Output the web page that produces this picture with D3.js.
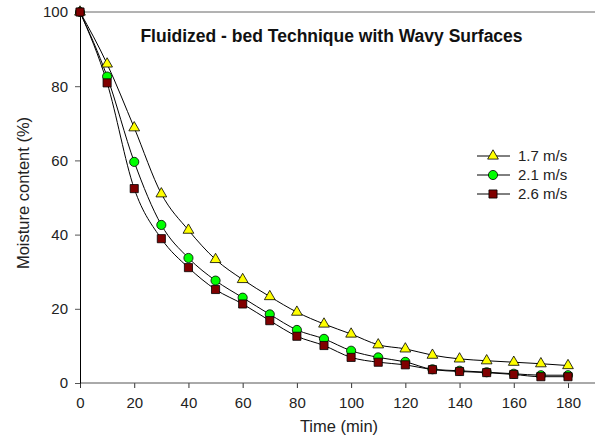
<!DOCTYPE html>
<html>
<head>
<meta charset="utf-8">
<script src="https://cdn.jsdelivr.net/npm/d3@7"></script>
<style>
  body { margin: 0; background: #fff; }
  svg { display: block; font-family: "Liberation Sans", Arial, sans-serif; }
</style>
</head>
<body>
<svg id="chart" width="595" height="448"></svg>
<script>
const times = [0, 10, 20, 30, 40, 50, 60, 70, 80, 90, 100, 110, 120, 130, 140, 150, 160, 170, 180];
const v17 = [100, 86.0, 68.8, 51.0, 41.2, 33.3, 27.9, 23.3, 19.1, 15.9, 13.2, 10.3, 9.2, 7.5, 6.5, 6.0, 5.6, 5.2, 4.7];
const v21 = [100, 82.6, 59.6, 42.6, 33.7, 27.6, 23.0, 18.5, 14.3, 11.9, 8.7, 6.9, 5.7, 3.7, 3.3, 2.9, 2.5, 2.1, 2.1];
const v26 = [100, 80.9, 52.4, 38.9, 31.1, 25.2, 21.3, 16.8, 12.6, 10.1, 6.9, 5.6, 4.9, 3.6, 3.1, 2.8, 2.3, 1.7, 1.7];
const seriesNames = ["1.7 m/s", "2.1 m/s", "2.6 m/s"];
const xTicks = [0, 20, 40, 60, 80, 100, 120, 140, 160, 180];
const yTicks = [0, 20, 40, 60, 80, 100];

const series = [
  { name: seriesNames[0], values: v17, shape: d3.symbolTriangle, size: 50, fill: "#ffff00" },
  { name: seriesNames[1], values: v21, shape: d3.symbolCircle, size: 66, fill: "#00ff00" },
  { name: seriesNames[2], values: v26, shape: d3.symbolSquare, size: 66, fill: "#800000" }
];

const svg = d3.select("#chart");
const W = 595;

const x = d3.scaleLinear().domain([0, 180]).range([80, 568]);
const y = d3.scaleLinear().domain([0, 100]).range([383, 12]);

// top frame line
svg.append("line")
  .attr("x1", 80).attr("x2", W).attr("y1", 12).attr("y2", 12)
  .attr("stroke", "#666").attr("stroke-width", 1);

// x axis
const xAxis = svg.append("g")
  .attr("transform", "translate(0,383)")
  .call(d3.axisBottom(x).tickValues(xTicks).tickSize(5).tickPadding(9).tickSizeOuter(0));
xAxis.select(".domain").remove();
xAxis.append("line").attr("x1", 80).attr("x2", W).attr("stroke", "#555");
xAxis.selectAll(".tick line").attr("stroke", "#333");
xAxis.selectAll("text").attr("font-size", 15).attr("fill", "#222")
  .attr("font-family", "Liberation Sans, Arial, sans-serif");

// y axis
const yAxis = svg.append("g")
  .attr("transform", "translate(80,0)")
  .call(d3.axisLeft(y).tickValues(yTicks).tickSize(5).tickPadding(7).tickSizeOuter(0));
yAxis.select(".domain").attr("stroke", "#000");
yAxis.selectAll(".tick line").attr("stroke", "#555");
yAxis.selectAll("text").attr("font-size", 15).attr("fill", "#222")
  .attr("font-family", "Liberation Sans, Arial, sans-serif");

// axis titles
svg.append("text")
  .attr("x", 339).attr("y", 432)
  .attr("text-anchor", "middle").attr("font-size", 16.5).attr("fill", "#222")
  .text("Time (min)");
svg.append("text")
  .attr("transform", "translate(29,193) rotate(-90)")
  .attr("text-anchor", "middle").attr("font-size", 16.5).attr("fill", "#222")
  .text("Moisture content (%)");

// title
svg.append("text")
  .attr("x", 331.5).attr("y", 42)
  .attr("text-anchor", "middle").attr("font-size", 17.5).attr("font-weight", "bold")
  .attr("fill", "#111")
  .text("Fluidized - bed Technique with Wavy Surfaces");

const line = d3.line()
  .x((d, i) => x(times[i]))
  .y(d => y(d))
  .curve(d3.curveMonotoneX);

series.forEach(s => {
  svg.append("path")
    .attr("d", line(s.values))
    .attr("fill", "none").attr("stroke", "#000").attr("stroke-width", 1);
});

const sym = (s) => d3.symbol().type(s.shape).size(s.size)();

series.forEach(s => {
  svg.append("g").selectAll("path")
    .data(s.values)
    .join("path")
    .attr("transform", (d, i) => `translate(${x(times[i])},${y(d)})`)
    .attr("d", sym(s))
    .attr("fill", s.fill).attr("stroke", "#000").attr("stroke-width", 0.8);
});

// legend
const legend = svg.append("g");
series.forEach((s, i) => {
  const ly = 156 + i * 19;
  legend.append("line").attr("x1", 477).attr("x2", 510).attr("y1", ly).attr("y2", ly)
    .attr("stroke", "#000");
  legend.append("path").attr("transform", `translate(493,${ly})`).attr("d", sym(s))
    .attr("fill", s.fill).attr("stroke", "#000").attr("stroke-width", 0.8);
  legend.append("text").attr("x", 518).attr("y", ly + 5)
    .attr("font-size", 15).attr("fill", "#222").text(s.name);
});
</script>
</body>
</html>
